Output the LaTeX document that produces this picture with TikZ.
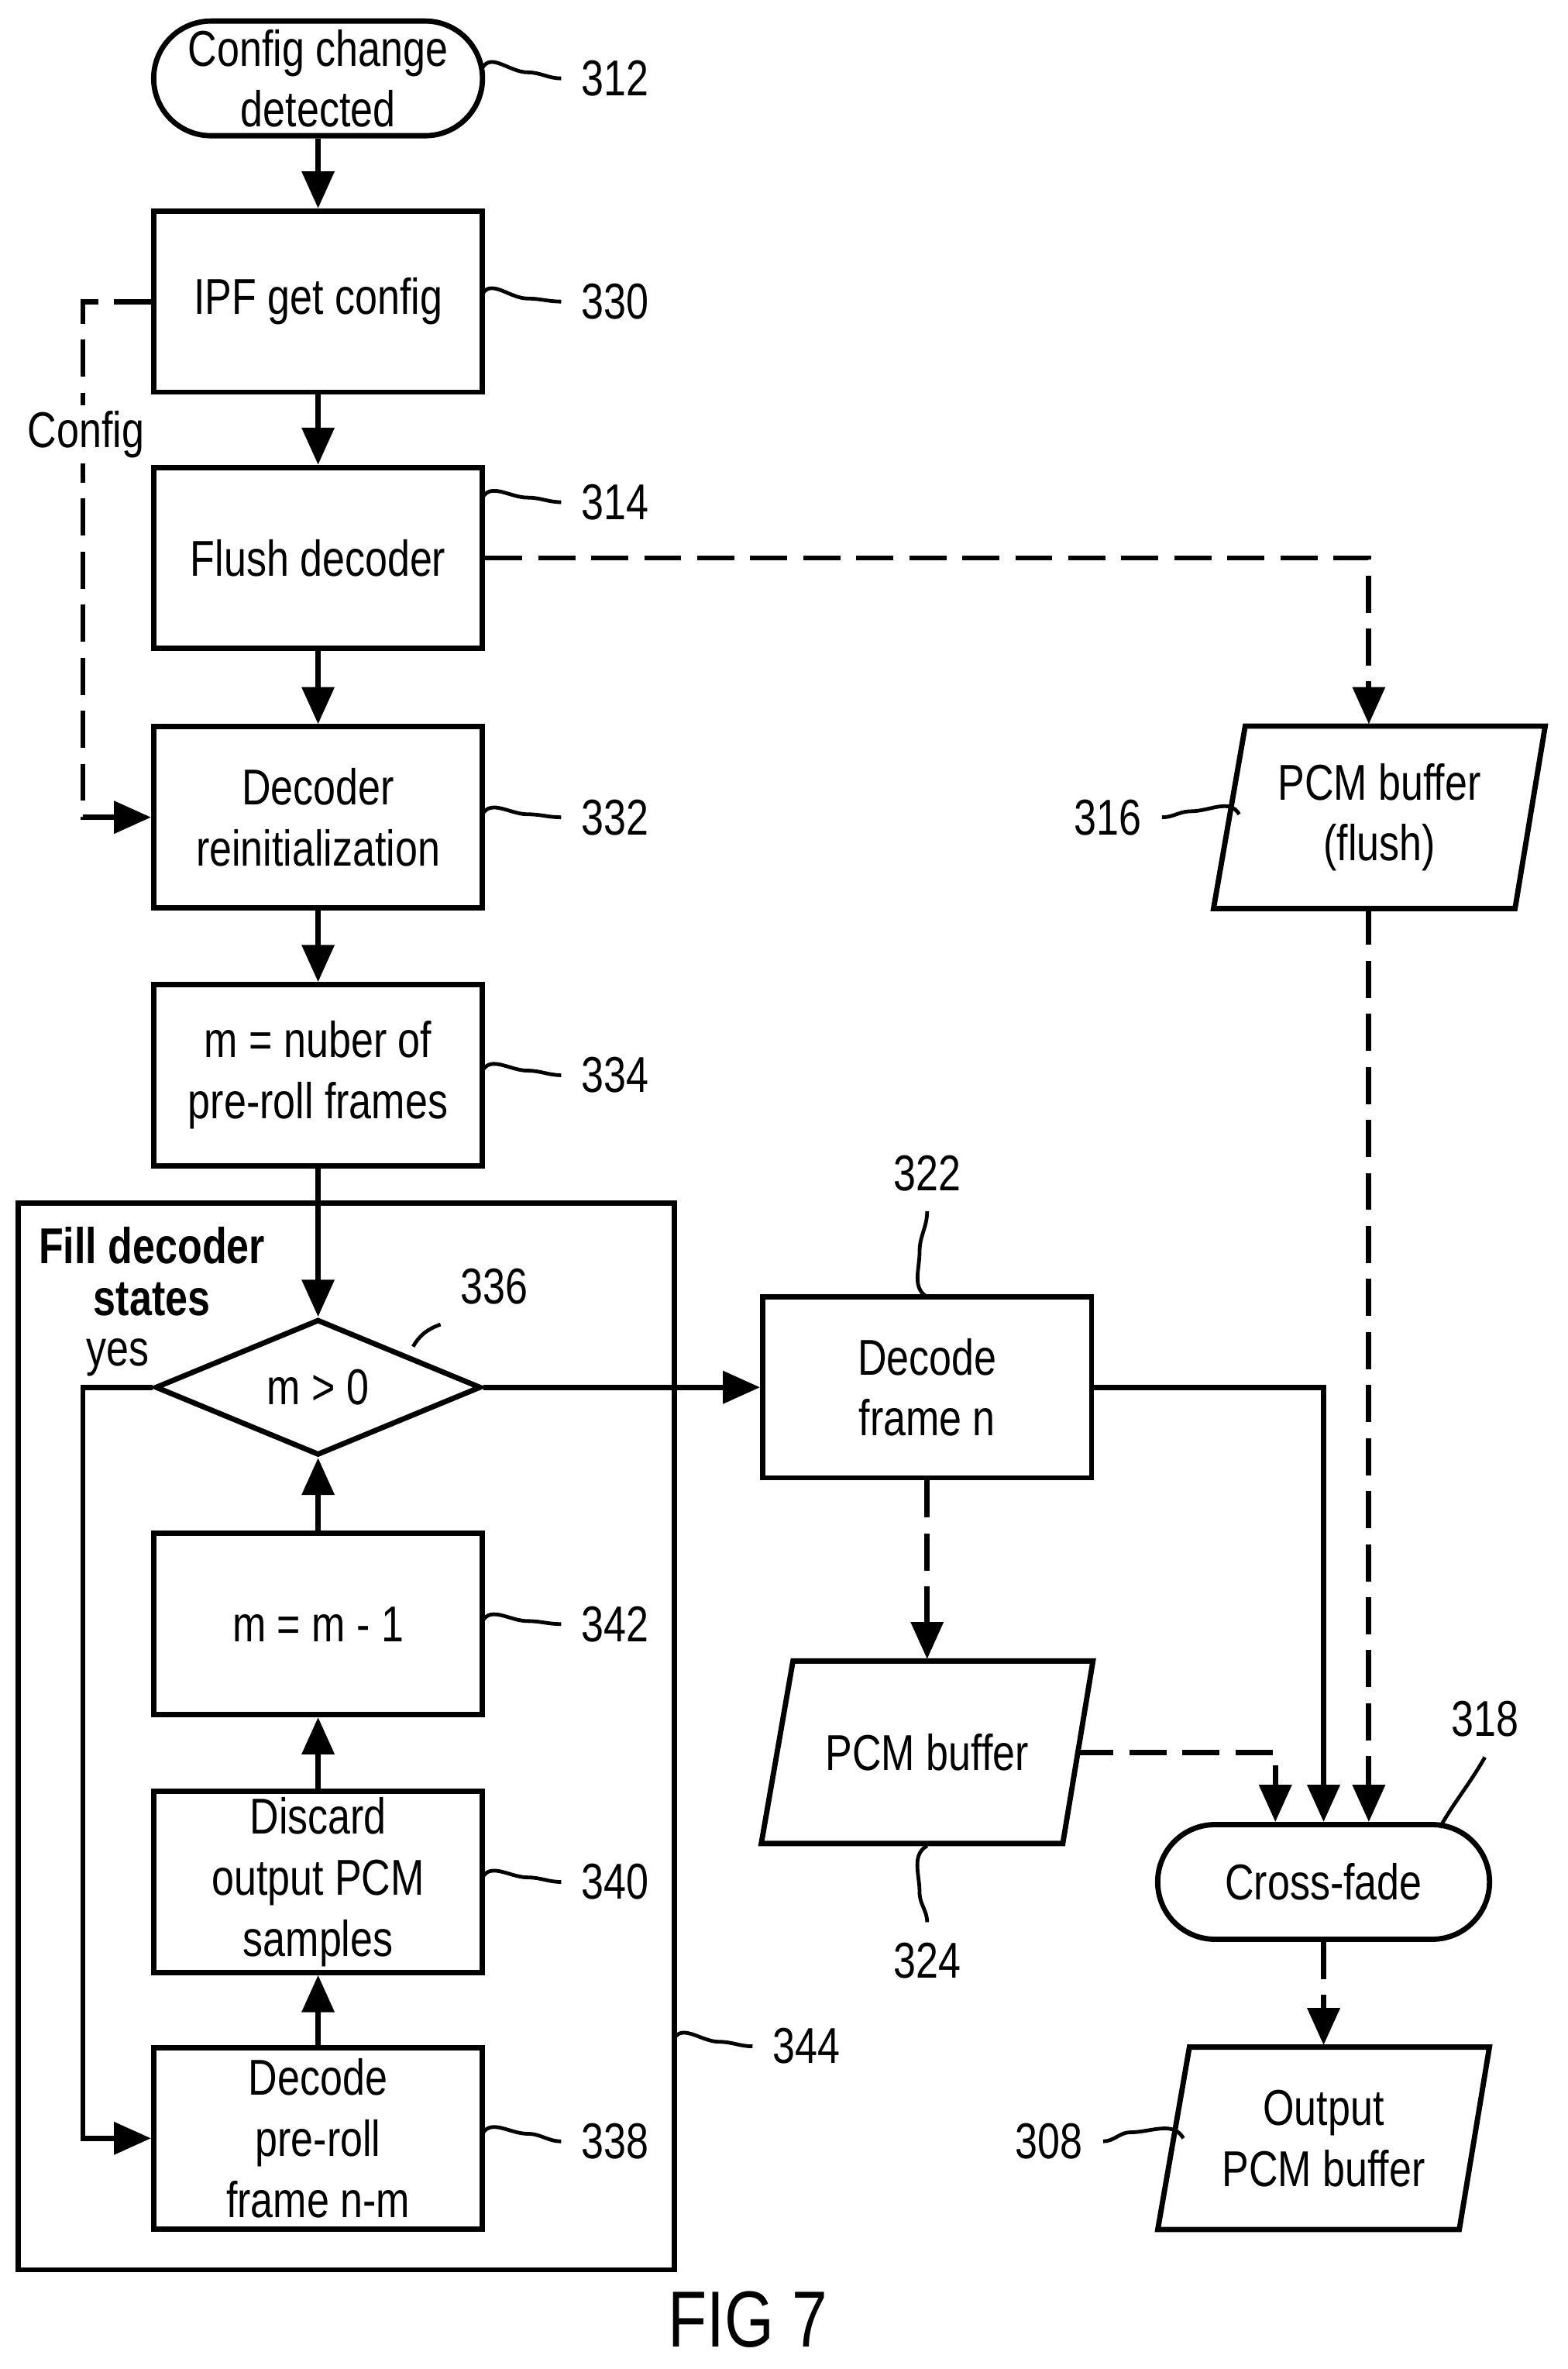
\documentclass[tikz,border=0pt]{standalone}
\usepackage{fontspec}
\setmainfont{Liberation Sans}[FakeStretch=0.8]
\usetikzlibrary{arrows.meta,shapes.geometric}
\begin{document}
\begin{tikzpicture}[x=0.01cm,y=-0.01cm,line width=1pt,
  every node/.style={font=\fontsize{9.5}{11.5}\selectfont,align=center},
  box/.style={draw,minimum width=2.18cm,minimum height=1.2cm,inner sep=1pt},
  term/.style={draw,rounded corners=0.38cm,minimum width=2.18cm,minimum height=0.76cm,inner sep=1pt},
  arr/.style={-{Triangle[length=7pt,width=6pt]}},
  dsh/.style={dash pattern=on 7pt off 3pt},
  sq/.style={line width=0.7pt},
  lab/.style={font=\fontsize{9.5}{11}\selectfont}]
\useasboundingbox (0,0) rectangle (1040,1571);
\newcommand{\para}[4]{%
  \node[minimum width=2cm,minimum height=1.2cm] (#1) at (#2,#3) {#4};
  \draw (#2-89,#3-60.5) -- (#2+110,#3-60.5) -- (#2+90,#3+60.5) -- (#2-110,#3+60.5) -- cycle;}
% main column
\node[term] (n312) at (211,52) {Config change\\detected};
\node[box] (n330) at (211,200) {IPF get config};
\node[box] (n314) at (211,370) {Flush decoder};
\node[box] (n332) at (211,542) {Decoder\\reinitialization};
\node[box] (n334) at (211,713) {m = nuber of\\pre-roll frames};
\node[draw,minimum width=4.35cm,minimum height=7.07cm] (n344) at (229.5,1151.5) {};
\node[anchor=north west,font=\fontsize{9.5}{9.8}\selectfont\bfseries,align=center,inner sep=0pt] (fill) at (24,812) {Fill decoder\\states};
\node[diamond,draw,aspect=2.4,minimum width=2.16cm,minimum height=0.9cm,inner sep=0pt] (n336) at (211,920) {m > 0};
\node[box] (n342) at (211,1077) {m = m - 1};
\node[box] (n340) at (211,1248) {Discard\\output PCM\\samples};
\node[box] (n338) at (211,1418) {Decode\\pre-roll\\frame n-m};
\node[box] (n322) at (615,920) {Decode\\frame n};
\para{n324}{615}{1162}{PCM buffer}
\para{n316}{915}{542}{PCM buffer\\(flush)}
\para{n308}{878}{1418}{Output\\PCM buffer}
\node[term,minimum width=2.2cm] (n318) at (878,1248) {Cross-fade};
\node[font=\fontsize{15}{17}\selectfont] (fig) at (496,1538) {FIG 7};
% connectors
\draw[arr] (n312) -- (n330);
\draw[arr] (n330) -- (n314);
\draw[arr] (n314) -- (n332);
\draw[arr] (n332) -- (n334);
\draw[arr] (n334) -- (n336);
\coordinate (c1) at (55,200); \coordinate (c2) at (55,542);
\draw[arr,dsh] (n330.west) -- (c1) -- (c2) -- (n332.west);
\node[fill=white,inner sep=1pt] (cfg) at (57,288) {Config};
\coordinate (c3) at (908,370);
\draw[arr,dsh] (n314.east) -- (c3) -- (n316.north -| c3);
\draw[arr] (n336.east) -- (n322.west);
\coordinate (c4) at (55,920); \coordinate (c5) at (55,1418);
\draw[arr] (n336.west) -- (c4) -- (c5) -- (n338.west);
\node (yes) at (78,900) {yes};
\draw[arr] (n338) -- (n340);
\draw[arr] (n340) -- (n342);
\draw[arr] (n342) -- (n336.south);
\draw[arr,dsh] (n322.south) -- (n324.north);
\coordinate (c6) at (878,920);
\draw[arr] (n322.east) -- (c6) -- (n318.north);
\coordinate (c7) at (908,602);
\draw[arr,dsh] (c7) -- (n318.north -| c7);
\coordinate (c8) at (714,1162); \coordinate (c9) at (846,1162);
\draw[arr,dsh] (c8) -- (c9) -- (n318.north -| c9);
\draw[arr,dsh] (n318.south) -- (n308.north);
% reference labels
\node[lab] (r312) at (408,52) {312};
\node[lab] (r330) at (408,200) {330};
\node[lab] (r314) at (408,333) {314};
\node[lab] (r332) at (408,542) {332};
\node[lab] (r334) at (408,713) {334};
\node[lab] (r336) at (328,853) {336};
\node[lab] (r342) at (408,1077) {342};
\node[lab] (r340) at (408,1248) {340};
\node[lab] (r338) at (408,1420) {338};
\node[lab] (r344) at (535,1357) {344};
\node[lab] (r322) at (615,778) {322};
\node[lab] (r324) at (615,1300) {324};
\node[lab] (r316) at (735,542) {316};
\node[lab] (r318) at (985,1140) {318};
\node[lab] (r308) at (696,1420) {308};
\draw[sq] (320,45) to[out=60,in=180] (350,48) to[out=0,in=180] (r312.west);
\draw[sq] (320,195) to[out=60,in=180] (350,198) to[out=0,in=180] (r330.west);
\draw[sq] (320,330) to[out=60,in=180] (350,330) to[out=0,in=180] (r314.west);
\draw[sq] (320,540) to[out=60,in=180] (350,540) to[out=0,in=180] (r332.west);
\draw[sq] (320,710) to[out=60,in=180] (350,710) to[out=0,in=180] (r334.west);
\draw[sq] (274,893) to[out=60,in=200] (r336.south west);
\draw[sq] (320,1075) to[out=60,in=180] (350,1075) to[out=0,in=180] (r342.west);
\draw[sq] (320,1245) to[out=60,in=180] (350,1245) to[out=0,in=180] (r340.west);
\draw[sq] (320,1415) to[out=60,in=180] (350,1415) to[out=0,in=180] (r338.west);
\draw[sq] (447,1352) to[out=60,in=180] (477,1354) to[out=0,in=180] (r344.west);
\draw[sq] (615,860) to[out=150,in=270] (610,830) to[out=90,in=270] (r322.south);
\draw[sq] (615,1224) to[out=210,in=90] (610,1255) to[out=270,in=90] (r324.north);
\draw[sq] (r316.east) to[out=0,in=180] (790,538) to[out=0,in=120] (822,540);
\draw[sq] (955,1212) to[out=60,in=240] (r318.south);
\draw[sq] (r308.east) to[out=0,in=180] (750,1414) to[out=0,in=120] (785,1418);
\end{tikzpicture}
\end{document}
